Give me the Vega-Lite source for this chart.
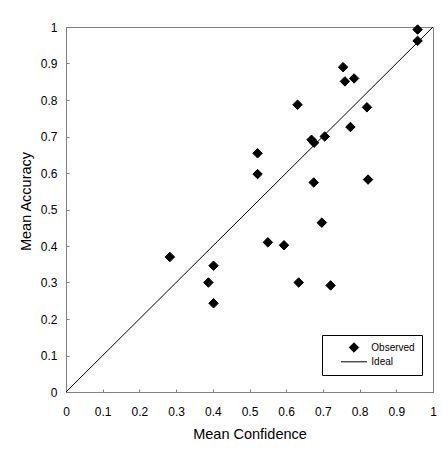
{
  "$schema": "https://vega.github.io/schema/vega-lite/v6.json",
  "width": 367,
  "height": 365,
  "autosize": "none",
  "padding": {"left": 66, "top": 27, "right": 10, "bottom": 58},
  "background": "white",
  "config": {
    "view": {"stroke": "#7f7f7f", "strokeWidth": 1},
    "axis": {
      "labelFont": "Liberation Sans",
      "labelFontSize": 12,
      "labelColor": "#000",
      "titleFont": "Liberation Sans",
      "titleFontSize": 14.5,
      "titleFontWeight": "normal",
      "titleColor": "#000",
      "domainColor": "#7f7f7f",
      "tickColor": "#7f7f7f",
      "grid": false
    },
    "legend": {
      "title": null,
      "orient": "none",
      "legendX": 256,
      "legendY": 308,
      "strokeColor": "#000",
      "padding": 7,
      "clipHeight": 11,
      "symbolOffset": 11.5,
      "labelOffset": 3.8,
      "rowPadding": 3.3,
      "symbolStrokeWidth": 1,
      "labelFont": "Liberation Sans",
      "labelFontSize": 10,
      "labelColor": "#000"
    }
  },
  "encoding": {
    "x": {
      "field": "confidence", "type": "quantitative",
      "scale": {"domain": [0, 1], "nice": false},
      "axis": {"title": "Mean Confidence", "values": [0, 0.1, 0.2, 0.3, 0.4, 0.5, 0.6, 0.7, 0.8, 0.9, 1], "format": "~g", "tickSize": -3, "labelPadding": 17, "titlePadding": 10, "labelFlush": false, "labelOverlap": false}
    },
    "y": {
      "field": "accuracy", "type": "quantitative",
      "scale": {"domain": [0, 1], "nice": false},
      "axis": {"title": "Mean Accuracy", "values": [0, 0.1, 0.2, 0.3, 0.4, 0.5, 0.6, 0.7, 0.8, 0.9, 1], "format": "~g", "tickSize": -3, "labelPadding": 12, "titlePadding": 7, "titleY": 174, "labelFlush": false, "labelOverlap": false}
    }
  },
  "layer": [
    {
      "data": {"values": [{"confidence": 0, "accuracy": 0}, {"confidence": 1, "accuracy": 1}]},
      "mark": {"type": "line", "color": "#000", "strokeWidth": 1}
    },
    {
      "data": {"values": [
        {"confidence": 0.958, "accuracy": 0.993, "series": "Observed"},
        {"confidence": 0.958, "accuracy": 0.962, "series": "Observed"},
        {"confidence": 0.755, "accuracy": 0.890, "series": "Observed"},
        {"confidence": 0.760, "accuracy": 0.851, "series": "Observed"},
        {"confidence": 0.785, "accuracy": 0.859, "series": "Observed"},
        {"confidence": 0.631, "accuracy": 0.787, "series": "Observed"},
        {"confidence": 0.820, "accuracy": 0.780, "series": "Observed"},
        {"confidence": 0.775, "accuracy": 0.726, "series": "Observed"},
        {"confidence": 0.669, "accuracy": 0.691, "series": "Observed"},
        {"confidence": 0.676, "accuracy": 0.683, "series": "Observed"},
        {"confidence": 0.705, "accuracy": 0.700, "series": "Observed"},
        {"confidence": 0.522, "accuracy": 0.654, "series": "Observed"},
        {"confidence": 0.522, "accuracy": 0.597, "series": "Observed"},
        {"confidence": 0.675, "accuracy": 0.574, "series": "Observed"},
        {"confidence": 0.823, "accuracy": 0.582, "series": "Observed"},
        {"confidence": 0.697, "accuracy": 0.464, "series": "Observed"},
        {"confidence": 0.550, "accuracy": 0.410, "series": "Observed"},
        {"confidence": 0.594, "accuracy": 0.402, "series": "Observed"},
        {"confidence": 0.283, "accuracy": 0.370, "series": "Observed"},
        {"confidence": 0.402, "accuracy": 0.346, "series": "Observed"},
        {"confidence": 0.388, "accuracy": 0.300, "series": "Observed"},
        {"confidence": 0.402, "accuracy": 0.243, "series": "Observed"},
        {"confidence": 0.634, "accuracy": 0.300, "series": "Observed"},
        {"confidence": 0.721, "accuracy": 0.292, "series": "Observed"}
      ]},
      "mark": {"type": "point", "filled": false, "fill": "#000", "stroke": "#000", "strokeWidth": 1, "opacity": 1},
      "encoding": {
        "shape": {
          "field": "series", "type": "nominal",
          "scale": {"domain": ["Observed", "Ideal"], "range": ["diamond", "stroke"]},
          "legend": {"title": null}
        },
        "size": {
          "field": "series", "type": "nominal",
          "scale": {"domain": ["Observed", "Ideal"], "range": [90, 676]},
          "legend": {"title": null}
        }
      }
    }
  ]
}
